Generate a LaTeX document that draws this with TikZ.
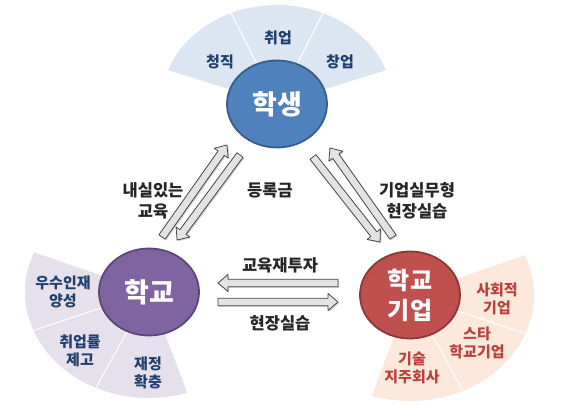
\documentclass[tikz,border=0pt]{standalone}
\usepackage{fontspec}
\setmainfont{Noto Sans CJK KR}
\usetikzlibrary{calc,shapes.geometric}
\definecolor{stuFill}{HTML}{4F81BD}
\definecolor{stuLine}{HTML}{385D8A}
\definecolor{schFill}{HTML}{8064A2}
\definecolor{schLine}{HTML}{5C4776}
\definecolor{comFill}{HTML}{C0504D}
\definecolor{comLine}{HTML}{8C3836}
\definecolor{fanB}{HTML}{DCE6F2}
\definecolor{fanP}{HTML}{E6E0EC}
\definecolor{fanR}{HTML}{FCE9DC}
\definecolor{txtB}{HTML}{1F3F6E}
\definecolor{txtR}{HTML}{B8403D}
\definecolor{lblTxt}{HTML}{262626}
\newcommand\blockarr[2]{%
  \coordinate (tmpN) at ($(#2)!10pt!(#1)$);
  \fill[black,opacity=.18] ([shift={(1.2pt,-1.2pt)}]$(#1)!3.8pt!90:(#2)$) -- ([shift={(1.2pt,-1.2pt)}]$(tmpN)!3.8pt!90:(#2)$) -- ([shift={(1.2pt,-1.2pt)}]$(tmpN)!8.5pt!90:(#2)$) -- ([shift={(1.2pt,-1.2pt)}]#2) -- ([shift={(1.2pt,-1.2pt)}]$(tmpN)!8.5pt!-90:(#2)$) -- ([shift={(1.2pt,-1.2pt)}]$(tmpN)!3.8pt!-90:(#2)$) -- ([shift={(1.2pt,-1.2pt)}]$(#1)!3.8pt!-90:(#2)$) -- cycle;
  \draw[arrstyle] ($(#1)!3.8pt!90:(#2)$) -- ($(tmpN)!3.8pt!90:(#2)$) -- ($(tmpN)!8.5pt!90:(#2)$) -- (#2) -- ($(tmpN)!8.5pt!-90:(#2)$) -- ($(tmpN)!3.8pt!-90:(#2)$) -- ($(#1)!3.8pt!-90:(#2)$) -- cycle;}
\begin{document}
\begin{tikzpicture}[x=1pt,y=1pt,
  arrstyle/.style={fill=gray!22,draw=gray!55!black,line width=0.8pt,line join=round},
  circ/.style={ellipse,inner sep=0pt,minimum width=100pt,minimum height=87pt,line width=1.8pt,text=white,align=center},
  ctext/.style={font=\bfseries\fontsize{27}{30}\selectfont},
  fantxt/.style={font=\bfseries\fontsize{15}{18}\selectfont,align=center},
  lbl/.style={font=\bfseries\fontsize{16.5}{21}\selectfont,align=center,text=lblTxt},
  divline/.style={draw=white,line width=1pt}]
\useasboundingbox (0,0) rectangle (568,406);
\fill[white] (0,0) rectangle (568,406);
\coordinate (S) at (277,302);
\coordinate (C) at (149,114);
\coordinate (K) at (410,111);
% fans
\fill[fanB] (S) -- ($(S)+(20:116pt and 99pt)$) arc[start angle=20,end angle=160,x radius=116pt,y radius=99pt] -- cycle;
\draw[divline] (S) -- ($(S)+(66.7:116pt and 99pt)$);
\draw[divline] (S) -- ($(S)+(113.3:116pt and 99pt)$);
\fill[fanP] (C) -- ($(C)+(158:124pt and 106pt)$) arc[start angle=158,end angle=288,x radius=124pt,y radius=106pt] -- cycle;
\draw[divline] (C) -- ($(C)+(201.3:124pt and 106pt)$);
\draw[divline] (C) -- ($(C)+(244.7:124pt and 106pt)$);
\fill[fanR] (K) -- ($(K)+(22:124pt and 106pt)$) arc[start angle=22,end angle=-108,x radius=124pt,y radius=106pt] -- cycle;
\draw[divline] (K) -- ($(K)+(-21.3:124pt and 106pt)$);
\draw[divline] (K) -- ($(K)+(-64.7:124pt and 106pt)$);
% fan texts
\node[fantxt,text=txtB] (f1) at (220,344) {청직};
\node[fantxt,text=txtB] (f2) at (278,368) {취업};
\node[fantxt,text=txtB] (f3) at (340,344) {창업};
\node[fantxt,text=txtB] (f4) at (63,114) {우수인재\\양성};
\node[fantxt,text=txtB] (f5) at (80,55.5) {취업률\\제고};
\node[fantxt,text=txtB] (f6) at (148,33.5) {재정\\확충};
\node[fantxt,text=txtR] (f7) at (497,107.5) {사회적\\기업};
\node[fantxt,text=txtR] (f8) at (477,63) {스타\\학교기업};
\node[fantxt,text=txtR] (f9) at (412,38) {기술\\지주회사};
% circles
\node[circ,fill=stuFill,draw=stuLine,ctext] (stu) at (S) {학생};
\node[circ,fill=schFill,draw=schLine,ctext] (sch) at (C) {학교};
\node[circ,fill=comFill,draw=comLine,font=\bfseries\fontsize{24}{30}\selectfont] (com) at (K) {학교\\기업};
% arrow end points
\coordinate (a1t) at (162,169); \coordinate (a1h) at (227,261);
\coordinate (a2t) at (240,251); \coordinate (a2h) at (177,166);
\coordinate (a3t) at (393,169); \coordinate (a3h) at (330,258);
\coordinate (a4t) at (313,249); \coordinate (a4h) at (380,164);
\coordinate (a5t) at (338,123); \coordinate (a5h) at (218,123);
\coordinate (a6t) at (218,104); \coordinate (a6h) at (338,104);
\blockarr{a1t}{a1h}
\blockarr{a2t}{a2h}
\blockarr{a3t}{a3h}
\blockarr{a4t}{a4h}
\blockarr{a5t}{a5h}
\blockarr{a6t}{a6h}
% labels
\node[lbl] (l1) at (153,205.5) {내실있는\\교육};
\node[lbl] (l2) at (270,216) {등록금};
\node[lbl] (l3) at (417,205.5) {기업실무형\\현장실습};
\node[lbl] (l4) at (280,141) {교육재투자};
\node[lbl] (l5) at (280,83) {현장실습};
\end{tikzpicture}
\end{document}
